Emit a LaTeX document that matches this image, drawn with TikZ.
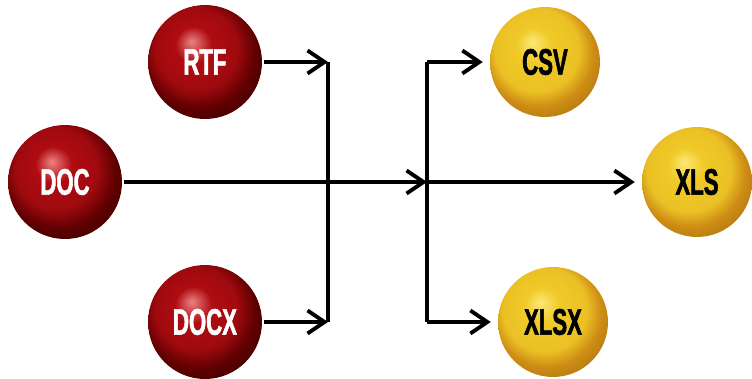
\documentclass[tikz,border=0pt]{standalone}
\usepackage{fontspec}
\newfontfamily\ballfont{Liberation Sans}[FakeStretch=0.6,FakeBold=1.5]
\usetikzlibrary{arrows.meta}
\definecolor{redhi}{RGB}{235,130,130}
\definecolor{redbody}{RGB}{175,12,18}
\definecolor{rededge}{RGB}{95,0,0}
\definecolor{yellowhi}{RGB}{252,232,120}
\definecolor{yellowbody}{RGB}{240,202,40}
\definecolor{yellowedge}{RGB}{205,140,20}
\pgfdeclareradialshading{redsphere}{\pgfqpoint{-6bp}{9bp}}{color(0bp)=(redhi); color(8bp)=(redbody); color(18bp)=(redbody!80!rededge); color(25bp)=(rededge); color(50bp)=(black)}
\pgfdeclareradialshading{yellowsphere}{\pgfqpoint{-6bp}{9bp}}{color(0bp)=(yellowhi); color(8bp)=(yellowbody); color(19bp)=(yellowbody!85!yellowedge); color(25bp)=(yellowedge); color(50bp)=(yellowedge!50!black)}
\tikzset{
  ball/.style={circle,minimum size=2.28cm,inner sep=0pt,
    font=\ballfont\bfseries\fontsize{21}{21}\selectfont},
  redball/.style={ball,shading=redsphere,text=white},
  yellowball/.style={ball,shading=yellowsphere,text=black,minimum size=2.2cm}
}
\begin{document}
\begin{tikzpicture}[>={Straight Barb[length=3.4mm,width=4.6mm]},x=0.02cm,y=-0.02cm,line width=2.2pt]
	\useasboundingbox (0,0) rectangle (752,379);
	\node[redball] (rtf) at (205,62) {RTF};
	\node[redball] (doc) at (65,182) {DOC};
	\node[redball] (docx) at (205,322) {DOCX};
	\node[yellowball] (csv) at (545,62) {CSV};
	\node[yellowball] (xls) at (697,182) {XLS};
	\node[yellowball] (xlsx) at (553,322) {XLSX};
	\coordinate (LT) at (328,62);
	\coordinate (LB) at (328,322);
	\coordinate (RT) at (427,62);
	\coordinate (RM) at (427,182);
	\coordinate (RB) at (427,322);
	\draw (LT) -- (LB);
	\draw (RT) -- (RB);
	\draw[->] (rtf) -- (LT);
	\draw[->] (docx) -- (LB);
	\draw[->] (doc) -- (RM);
	\draw[->,shorten >=3pt] (RT) -- (csv);
	\draw[->,shorten >=3pt] (RM) -- (xls);
	\draw[->,shorten >=3pt] (RB) -- (xlsx);
\end{tikzpicture}
\end{document}
